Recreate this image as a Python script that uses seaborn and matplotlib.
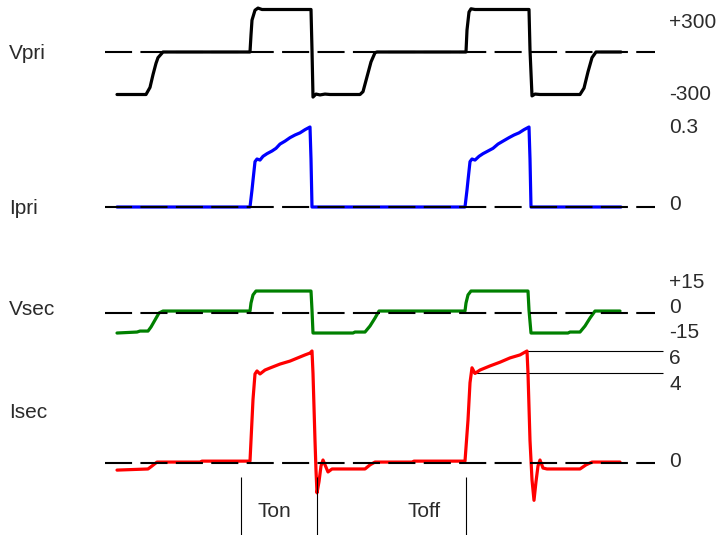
import matplotlib
matplotlib.use("Agg")
import matplotlib.pyplot as plt
import seaborn as sns
import pandas as pd

sns.set_theme(style="white")
plt.rcParams["font.family"] = ["Liberation Sans", "DejaVu Sans"]

# ---- waveform data (time in µs) ----
vpri_t = [-13.3, -10.4, -10.0, -9.7, -9.4, -9.2, -8.7, 0.0, 0.1, 0.2, 0.5, 0.8, 1.2, 6.1, 6.2, 6.3,
          6.6, 7.0, 7.5, 8.0, 11.0, 11.3, 11.7, 12.1, 12.5, 12.7, 21.6, 21.7, 21.9, 22.1, 22.5,
          27.9, 28.0, 28.2, 28.5, 29.0, 33.0, 33.4, 33.8, 34.2, 34.6, 37.1]
vpri_v = [-300, -300, -250, -160, -80, -40, 0, 0, 120, 225, 295, 310, 300, 300, 15, -318,
          -297, -303, -297, -300, -300, -280, -175, -70, -5, 0, 0, 155, 282, 305, 300,
          300, 15, -310, -297, -300, -300, -255, -140, -40, 0, 0]

ipri_t = [-13.3, 0.0, 0.2, 0.3, 0.5, 0.7, 1.0, 1.3, 1.7, 2.2, 2.6, 3.0, 3.5, 4.0, 4.5, 5.0, 5.5,
          6.0, 6.1, 6.2, 21.5, 21.7, 21.8, 22.0, 22.2, 22.5, 22.9, 23.3, 23.8, 24.3, 24.8,
          25.3, 25.9, 26.4, 26.9, 27.4, 27.9, 28.0, 28.1, 37.1]
ipri_a = [0, 0, 0.064, 0.10, 0.17, 0.18, 0.176, 0.19, 0.20, 0.21, 0.22, 0.236, 0.247, 0.26,
          0.27, 0.278, 0.29, 0.30, 0.18, 0, 0, 0.064, 0.10, 0.17, 0.18, 0.176, 0.19, 0.20,
          0.21, 0.22, 0.236, 0.247, 0.26, 0.27, 0.278, 0.29, 0.30, 0.18, 0, 0]

vsec_t = [-13.3, -11.3, -11.0, -10.2, -9.9, -9.5, -9.1, -8.7, 0.0, 0.1, 0.3, 0.6, 6.1, 6.2, 6.3,
          10.3, 10.5, 11.5, 12.0, 12.5, 12.9, 21.5, 21.6, 21.8, 22.1, 27.8, 27.9, 28.1,
          31.8, 32.0, 33.0, 33.5, 34.0, 34.5, 37.0]
vsec_v = [-14.3, -13.6, -12.9, -12.9, -10, -5, 0, 1.4, 1.4, 7.1, 12.9, 15.7, 15.7, 2.1, -14.3,
          -14.3, -13.6, -13.6, -9.3, -3.6, 1.4, 1.4, 7.1, 12.9, 15.7, 15.7, 2.1, -14.3,
          -14.3, -13.6, -13.6, -9.3, -3.6, 1.4, 1.4]

isec_t = [-13.3, -10.2, -9.8, -9.3, -5.0, -4.8, 0.0, 0.2, 0.3, 0.5, 0.7, 1.0, 1.5, 2.0, 3.0,
          4.0, 5.0, 5.5, 6.0, 6.2, 6.3, 6.5, 6.6, 6.7, 6.9, 7.1, 7.3, 7.5, 7.8, 8.2, 11.5,
          12.0, 12.5, 16.2, 16.4, 21.5, 21.8, 22.0, 22.2, 22.5, 23.0, 24.0, 25.0, 26.0,
          27.0, 27.7, 27.8, 28.0, 28.2, 28.4, 28.6, 28.8, 29.0, 29.3, 29.7, 33.0, 33.6,
          34.2, 37.0]
isec_a = [-0.38, -0.32, -0.16, 0.05, 0.05, 0.1, 0.1, 2.3, 3.4, 4.77, 4.93, 4.77, 4.98, 5.09,
          5.3, 5.46, 5.68, 5.79, 5.89, 6.0, 4.8, 1.2, -0.4, -1.6, -1.0, -0.16, 0.16, -0.1,
          -0.48, -0.32, -0.32, -0.1, 0.05, 0.05, 0.1, 0.1, 2.3, 4.3, 5.1, 4.8, 4.98, 5.2,
          5.4, 5.63, 5.79, 6.0, 4.8, 1.2, -0.9, -2.0, -1.0, -0.16, 0.16, -0.27, -0.32,
          -0.32, -0.1, 0.05, 0.05]

# marker levels on the Isec trace and the Ton/Toff edges
isec_levels = [6.0, 4.8]
isec_level_start = [27.7, 22.3]
edge_times = [-0.9, 6.7, 21.6]

W, H = 724, 535
fig = plt.figure(figsize=(W / 100, H / 100), dpi=100)

t_left, t_right = -25.0, 47.4   # time shown across the full width
dash_start, dash_end = -14.5, 40.5


def trace_axes(zero_px, px_per_unit):
    ax = fig.add_axes([0, 0, 1, 1])
    ax.patch.set_alpha(0)
    ax.set_xlim(t_left, t_right)
    ax.set_ylim(-(H - zero_px) / px_per_unit, zero_px / px_per_unit)
    ax.axis("off")
    return ax


traces = [
    (vpri_t, vpri_v, "black", 52, 42.5 / 300),
    (ipri_t, ipri_a, "#0000ff", 207, 80 / 0.3),
    (vsec_t, vsec_v, "#008000", 313, 21 / 15),
    (isec_t, isec_a, "#ff0000", 463, 112 / 6),
]

axes = []
for t, y, color, zero_px, scale in traces:
    ax = trace_axes(zero_px, scale)
    df = pd.DataFrame({"t": t, "y": y})
    sns.lineplot(data=df, x="t", y="y", ax=ax, color=color, lw=2.3,
                 estimator=None, sort=False, zorder=2)
    ax.hlines(0, dash_start, dash_end, color="black", lw=1.5,
              linestyle=(0, (13, 4)), zorder=3)
    ax.axis("off")
    axes.append(ax)

ax_isec = axes[3]
ax_isec.hlines(isec_levels, isec_level_start, 41.3, color="black", lw=0.8, zorder=1)
ax_isec.vlines(edge_times, -0.75, -3.9, color="black", lw=0.8)

txt = "#2b2b2b"


def label(x, y, s):
    fig.text(x / W, 1 - y / H, s, fontsize=15, color=txt, va="baseline", ha="left")


for s, y in [("Vpri", 59), ("Ipri", 214), ("Vsec", 315), ("Isec", 418)]:
    label(9, y, s)

for s, y in [("+300", 28), ("-300", 100), ("0.3", 133), ("0", 210),
             ("+15", 288), ("0", 313), ("-15", 338),
             ("6", 364), ("4", 390), ("0", 467)]:
    label(669, y, s)

label(258, 517, "Ton")
label(407, 517, "Toff")

fig.savefig("out.png", dpi=100)
